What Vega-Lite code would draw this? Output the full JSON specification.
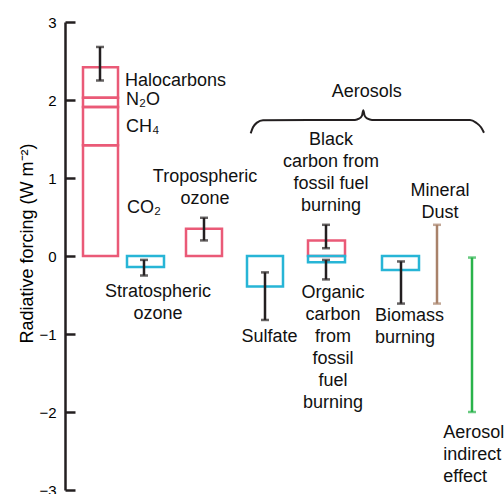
{
  "$schema": "https://vega.github.io/schema/vega-lite/v6.json",
  "width": 420,
  "height": 468,
  "autosize": "none",
  "padding": {"left": 65, "top": 22, "right": 19, "bottom": 4},
  "background": "white",
  "config": {"view": {"stroke": null}, "font": "Liberation Sans"},
  "datasets": {
    "bars": [
      {"name": "CO2", "x1": 18, "x2": 53, "lo": 0, "hi": 1.42, "kind": "positive"},
      {"name": "CH4", "x1": 18, "x2": 53, "lo": 1.42, "hi": 1.91, "kind": "positive"},
      {"name": "N2O", "x1": 18, "x2": 53, "lo": 1.91, "hi": 2.03, "kind": "positive"},
      {"name": "Halocarbons", "x1": 18, "x2": 53, "lo": 2.03, "hi": 2.42, "kind": "positive"},
      {"name": "Stratospheric ozone", "x1": 62, "x2": 99, "lo": -0.14, "hi": 0, "kind": "negative"},
      {"name": "Tropospheric ozone", "x1": 121, "x2": 157, "lo": 0, "hi": 0.35, "kind": "positive"},
      {"name": "Sulfate", "x1": 182, "x2": 218, "lo": -0.39, "hi": 0, "kind": "negative"},
      {"name": "Black carbon", "x1": 243, "x2": 280, "lo": 0, "hi": 0.2, "kind": "positive"},
      {"name": "Organic carbon", "x1": 243, "x2": 280, "lo": -0.08, "hi": 0, "kind": "negative"},
      {"name": "Biomass burning", "x1": 317, "x2": 354, "lo": -0.18, "hi": 0, "kind": "negative"}
    ],
    "errors": [
      {"name": "Well-mixed gases", "x": 35, "lo": 2.25, "hi": 2.68, "kind": "err"},
      {"name": "Stratospheric ozone", "x": 79, "lo": -0.25, "hi": -0.05, "kind": "err"},
      {"name": "Tropospheric ozone", "x": 139, "lo": 0.2, "hi": 0.49, "kind": "err"},
      {"name": "Sulfate", "x": 200, "lo": -0.82, "hi": -0.21, "kind": "err"},
      {"name": "Black carbon", "x": 261, "lo": 0.1, "hi": 0.4, "kind": "err"},
      {"name": "Organic carbon", "x": 261, "lo": -0.3, "hi": -0.05, "kind": "err"},
      {"name": "Biomass burning", "x": 336, "lo": -0.61, "hi": -0.07, "kind": "err"},
      {"name": "Mineral Dust", "x": 372, "lo": -0.61, "hi": 0.4, "kind": "dust"},
      {"name": "Aerosol indirect effect", "x": 407, "lo": -2.0, "hi": -0.02, "kind": "indirect"}
    ],
    "brace": [
      {"x": 185.7, "y": 1.573},
      {"x": 188, "y": 1.65},
      {"x": 192, "y": 1.71},
      {"x": 198, "y": 1.74},
      {"x": 290, "y": 1.744},
      {"x": 294, "y": 1.76},
      {"x": 297, "y": 1.8},
      {"x": 298.3, "y": 1.87},
      {"x": 299.6, "y": 1.8},
      {"x": 302.6, "y": 1.76},
      {"x": 307, "y": 1.744},
      {"x": 405, "y": 1.744},
      {"x": 411, "y": 1.71},
      {"x": 416, "y": 1.65},
      {"x": 419, "y": 1.58}
    ],
    "centerLabels": [
      {"text": "Tropospheric\nozone", "x": 140, "y": 1.013},
      {"text": "Stratospheric\nozone", "x": 93, "y": -0.458},
      {"text": "Aerosols", "x": 301.7, "y": 2.106},
      {"text": "Black\ncarbon from\nfossil fuel\nburning", "x": 266, "y": 1.487},
      {"text": "Mineral\nDust", "x": 375, "y": 0.837},
      {"text": "Sulfate", "x": 204.5, "y": -1.035},
      {"text": "Organic\ncarbon\nfrom\nfossil\nfuel\nburning", "x": 268, "y": -0.478}
    ],
    "leftLabels": [
      {"text": "Halocarbons", "x": 60, "y": 2.24},
      {"text": "N₂O", "x": 61, "y": 2.0},
      {"text": "CH₄", "x": 61, "y": 1.65},
      {"text": "CO₂", "x": 62, "y": 0.62},
      {"text": "Biomass\nburning", "x": 310, "y": -0.769},
      {"text": "Aerosol\nindirect\neffect", "x": 378.3, "y": -2.273}
    ]
  },
  "layer": [
    {
      "data": {"name": "bars"},
      "mark": {"type": "rect", "filled": false, "strokeWidth": 2.5},
      "encoding": {
        "x": {"field": "x1", "type": "quantitative", "scale": {"domain": [0, 420], "nice": false, "zero": false}, "axis": null},
        "x2": {"field": "x2"},
        "y": {
          "field": "lo",
          "type": "quantitative",
          "scale": {"domain": [-3, 3], "nice": false},
          "axis": {
            "values": [-3, -2.5, -2, -1.5, -1, -0.5, 0, 0.5, 1, 1.5, 2, 2.5, 3],
            "format": "d",
            "labelExpr": "datum.value % 1 === 0 ? datum.label : ''",
            "title": "Radiative forcing (W m⁻²)",
            "grid": false,
            "domainColor": "#231f20",
            "domainWidth": 2.5,
            "tickColor": "#231f20",
            "tickWidth": 2.5,
            "tickSize": {"condition": {"test": "datum.value % 1 === 0", "value": -10}, "value": -6},
            "labelFontSize": 15,
            "labelColor": "black",
            "labelPadding": 19,
            "labelFlush": false,
            "titleFontSize": 18,
            "titleFontWeight": "normal",
            "titleColor": "black",
            "titleX": -38,
            "titleY": 221,
            "titleAngle": -90,
            "titleAlign": "center",
            "titleBaseline": "middle"
          }
        },
        "y2": {"field": "hi"},
        "color": {
          "field": "kind",
          "type": "nominal",
          "scale": {"domain": ["positive", "negative", "err", "dust", "indirect"], "range": ["#ea5a77", "#27b5d6", "#231f20", "#a8826a", "#2ab34b"]},
          "legend": null
        }
      }
    },
    {
      "data": {"name": "errors"},
      "mark": {"type": "rule", "strokeWidth": 2.5},
      "encoding": {
        "x": {"field": "x", "type": "quantitative"},
        "y": {"field": "lo", "type": "quantitative"},
        "y2": {"field": "hi"},
        "color": {"field": "kind", "type": "nominal", "legend": null}
      }
    },
    {
      "data": {"name": "errors"},
      "transform": [{"fold": ["lo", "hi"], "as": ["end", "value"]}],
      "mark": {"type": "tick", "orient": "horizontal", "size": 8, "thickness": 2.5},
      "encoding": {
        "x": {"field": "x", "type": "quantitative"},
        "y": {"field": "value", "type": "quantitative"},
        "color": {"field": "kind", "type": "nominal", "legend": null}
      }
    },
    {
      "mark": {"type": "rule", "strokeWidth": 2.5, "color": "#231f20"},
      "encoding": {
        "x": {"datum": 0, "type": "quantitative"},
        "x2": {"datum": 415},
        "y": {"datum": 0, "type": "quantitative"}
      }
    },
    {
      "data": {"name": "brace"},
      "mark": {"type": "line", "interpolate": "monotone", "strokeWidth": 2, "color": "#231f20"},
      "encoding": {
        "x": {"field": "x", "type": "quantitative"},
        "y": {"field": "y", "type": "quantitative"}
      }
    },
    {
      "data": {"name": "centerLabels"},
      "mark": {"type": "text", "align": "center", "baseline": "middle", "fontSize": 18, "lineHeight": 22, "lineBreak": "\n", "color": "#111111"},
      "encoding": {
        "x": {"field": "x", "type": "quantitative"},
        "y": {"field": "y", "type": "quantitative"},
        "text": {"field": "text", "type": "nominal"}
      }
    },
    {
      "data": {"name": "leftLabels"},
      "mark": {"type": "text", "align": "left", "baseline": "middle", "fontSize": 18, "lineHeight": 22, "lineBreak": "\n", "color": "#111111"},
      "encoding": {
        "x": {"field": "x", "type": "quantitative"},
        "y": {"field": "y", "type": "quantitative"},
        "text": {"field": "text", "type": "nominal"}
      }
    }
  ]
}
